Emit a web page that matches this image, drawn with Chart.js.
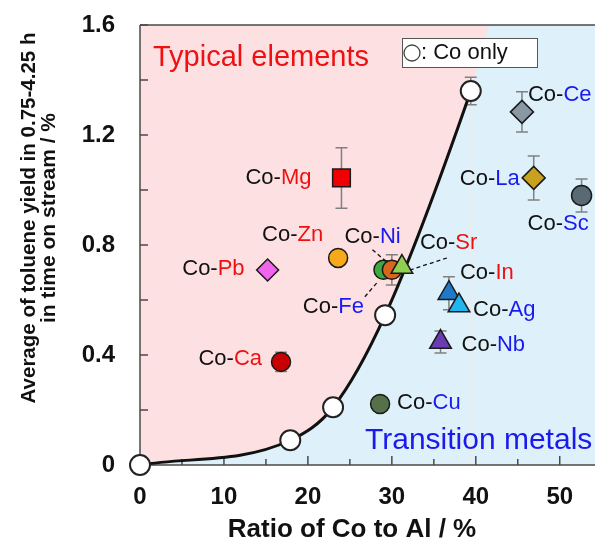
<!DOCTYPE html>
<html>
<head>
<meta charset="utf-8">
<script src="https://cdn.jsdelivr.net/npm/chart.js@4.4.1/dist/chart.umd.min.js"></script>
<style>
  html, body { margin: 0; padding: 0; background: #fff; }
  canvas { display: block; }
</style>
</head>
<body>
<canvas id="panel-chart" width="595" height="544"></canvas>
<script>
// Co only catalysts: ratio of Co to Al (%) vs toluene yield (%)
const coOnlyRatio = [0, 17.9, 23.0, 29.2, 39.4];
const coOnlyYield = [0, 0.09, 0.21, 0.545, 1.36];
const coOnlyError = [0, 0, 0, 0, 0.05];

// the shaded boundary keeps going past the last Co only point up to the frame
const boundaryRatio = [41.9, 60];
const boundaryYield = [1.6, 1.6];

// Co-X catalysts
const dopants = ['Mg', 'Zn', 'Pb', 'Ca', 'Ni', 'Fe', 'Sr', 'In', 'Ag', 'Nb', 'Cu', 'Ce', 'La', 'Sc'];
const dopantRatio = [24.0, 23.6, 15.2, 16.8, 29.0, 30.0, 31.2, 36.8, 38.0, 35.8, 28.6, 45.5, 46.9, 52.6];
const dopantYield = [1.044, 0.753, 0.709, 0.375, 0.71, 0.71, 0.72, 0.625, 0.58, 0.447, 0.222, 1.284, 1.044, 0.98];
const dopantError = [0.11, 0, 0, 0.035, 0, 0.055, 0, 0.06, 0, 0.04, 0, 0.073, 0.08, 0.06];
const dopantGroup = ['typical', 'typical', 'typical', 'typical', 'transition', 'transition', 'typical',
    'typical', 'transition', 'transition', 'transition', 'transition', 'transition', 'transition'];

const xTickLabels = [0, 10, 20, 30, 40, 50];
const yTickLabels = [0, 0.4, 0.8, 1.2, 1.6];

// looks
const markerLook = {
    Mg: { style: 'rect', color: '#f00000', size: 12.5 },
    Zn: { style: 'circle', color: '#f7a81b', size: 9.5 },
    Pb: { style: 'rectRot', color: '#f064ee', size: 11 },
    Ca: { style: 'circle', color: '#c80000', size: 9.5 },
    Ni: { style: 'circle', color: '#3caa3c', size: 9.5 },
    Fe: { style: 'circle', color: '#d8661c', size: 9.5 },
    Sr: { style: 'triangle', color: '#8fd050', size: 12.5 },
    In: { style: 'triangle', color: '#1f78c8', size: 12.5 },
    Ag: { style: 'triangle', color: '#22b6f0', size: 12.5 },
    Nb: { style: 'triangle', color: '#6a3cb4', size: 12.5 },
    Cu: { style: 'circle', color: '#56704a', size: 9.5 },
    Ce: { style: 'rectRot', color: '#8a98a4', size: 11.5 },
    La: { style: 'rectRot', color: '#c8a21e', size: 11.5 },
    Sc: { style: 'circle', color: '#5a6a74', size: 10 }
};

const groupColor = { typical: '#ee1111', transition: '#1a1aee' };

// label placement in pixels from the marker (left edge or right edge, vertical middle)
const labelPlacement = {
    Mg: { dx: -30, dy: 0, align: 'right' },
    Zn: { dx: -76, dy: -23, align: 'left' },
    Pb: { dx: -23, dy: -1, align: 'right' },
    Ca: { dx: -19, dy: -3, align: 'right' },
    Ni: { dx: -39, dy: -33, align: 'left' },
    Fe: { dx: -89, dy: 37, align: 'left' },
    Sr: { dx: 18, dy: -24, align: 'left' },
    In: { dx: 11, dy: -20, align: 'left' },
    Ag: { dx: 14, dy: 4, align: 'left' },
    Nb: { dx: 21, dy: 3, align: 'left' },
    Cu: { dx: 17, dy: -1, align: 'left' },
    Ce: { dx: 6, dy: -17, align: 'left' },
    La: { dx: -14, dy: 1, align: 'right' },
    Sc: { dx: -54, dy: 28, align: 'left' }
};

const leaderLines = {
    Ni: [-11, -20, 3, -8],
    Fe: [-27, 27, -14, 12],
    Sr: [45, -9, 8, 3]
};

const pinkZone = '#fde0e1';
const blueZone = '#def1fa';
const axisColor = '#4a4a4a';
const labelFont = '22px "Liberation Sans", Arial, sans-serif';

const coOnlyPoints = coOnlyRatio.map((x, i) => ({ x: x, y: coOnlyYield[i] }))
    .concat(boundaryRatio.map((x, i) => ({ x: x, y: boundaryYield[i] })));

const dopantPoints = dopants.map((d, i) => ({ x: dopantRatio[i], y: dopantYield[i] }));

const lastCoOnly = coOnlyRatio.length - 1;

const backdrop = {
    id: 'backdrop',
    beforeDraw(chart) {
        const { ctx, chartArea: a } = chart;
        ctx.save();
        ctx.fillStyle = '#ffffff';
        ctx.fillRect(0, 0, chart.width, chart.height);
        ctx.fillStyle = pinkZone;
        ctx.fillRect(a.left, a.top, a.right - a.left, a.bottom - a.top);
        ctx.restore();
    }
};

const axesAndBars = {
    id: 'axesAndBars',
    beforeDatasetsDraw(chart) {
        const { ctx, chartArea: a, scales } = chart;
        ctx.save();
        ctx.strokeStyle = axisColor;
        ctx.lineWidth = 1.5;

        ctx.beginPath();
        ctx.moveTo(a.left, a.top);
        ctx.lineTo(a.right, a.top);
        ctx.moveTo(a.left, a.top);
        ctx.lineTo(a.left, a.bottom);
        ctx.lineTo(a.right, a.bottom);
        ctx.stroke();

        // inward ticks
        ctx.beginPath();
        scales.x.ticks.forEach(t => {
            if (Math.abs(t.value % 5) > 0.01) return;
            const px = scales.x.getPixelForValue(t.value);
            const len = t.value % 10 === 0 ? 9 : 6;
            ctx.moveTo(px, a.bottom);
            ctx.lineTo(px, a.bottom - len);
        });
        scales.y.ticks.forEach(t => {
            const py = scales.y.getPixelForValue(t.value);
            ctx.moveTo(a.left, py);
            ctx.lineTo(a.left + 8, py);
        });
        ctx.stroke();

        // error bars
        ctx.strokeStyle = '#808080';
        ctx.lineWidth = 1.5;
        const bar = (x, y, e) => {
            if (!e) return;
            const px = scales.x.getPixelForValue(x);
            const top = scales.y.getPixelForValue(y + e);
            const bot = scales.y.getPixelForValue(y - e);
            ctx.beginPath();
            ctx.moveTo(px, top);
            ctx.lineTo(px, bot);
            ctx.moveTo(px - 6, top);
            ctx.lineTo(px + 6, top);
            ctx.moveTo(px - 6, bot);
            ctx.lineTo(px + 6, bot);
            ctx.stroke();
        };
        coOnlyRatio.forEach((x, i) => bar(x, coOnlyYield[i], coOnlyError[i]));
        dopants.forEach((d, i) => bar(dopantRatio[i], dopantYield[i], dopantError[i]));
        ctx.restore();
    }
};

const textLayer = {
    id: 'textLayer',
    afterDatasetsDraw(chart) {
        const { ctx, scales } = chart;
        ctx.save();

        // dashed leaders
        ctx.strokeStyle = '#111';
        ctx.lineWidth = 1.3;
        ctx.setLineDash([4, 3]);
        Object.keys(leaderLines).forEach(d => {
            const i = dopants.indexOf(d);
            const px = scales.x.getPixelForValue(dopantRatio[i]);
            const py = scales.y.getPixelForValue(dopantYield[i]);
            const l = leaderLines[d];
            ctx.beginPath();
            ctx.moveTo(px + l[0], py + l[1]);
            ctx.lineTo(px + l[2], py + l[3]);
            ctx.stroke();
        });
        ctx.setLineDash([]);

        // Co-X labels
        ctx.font = labelFont;
        ctx.textBaseline = 'middle';
        ctx.textAlign = 'left';
        dopants.forEach((d, i) => {
            const px = scales.x.getPixelForValue(dopantRatio[i]);
            const py = scales.y.getPixelForValue(dopantYield[i]);
            const p = labelPlacement[d];
            const wCo = ctx.measureText('Co-').width;
            const wD = ctx.measureText(d).width;
            let x0 = px + p.dx;
            if (p.align === 'right') x0 -= wCo + wD;
            const y0 = py + p.dy;
            ctx.fillStyle = '#111';
            ctx.fillText('Co-', x0, y0);
            ctx.fillStyle = groupColor[dopantGroup[i]];
            ctx.fillText(d, x0 + wCo, y0);
        });

        // zone names
        ctx.textBaseline = 'alphabetic';
        ctx.font = '29px "Liberation Sans", Arial, sans-serif';
        ctx.fillStyle = groupColor.typical;
        ctx.fillText('Typical elements', 153, 66);
        ctx.font = '30px "Liberation Sans", Arial, sans-serif';
        ctx.fillStyle = groupColor.transition;
        ctx.fillText('Transition metals', 365, 449);

        // legend box
        ctx.fillStyle = '#ffffff';
        ctx.fillRect(402, 38, 135, 29);
        ctx.strokeStyle = '#555';
        ctx.lineWidth = 1;
        ctx.strokeRect(402.5, 38.5, 135, 29);
        ctx.beginPath();
        ctx.arc(412, 53, 8, 0, Math.PI * 2);
        ctx.lineWidth = 1.3;
        ctx.strokeStyle = '#444';
        ctx.stroke();
        ctx.fillStyle = '#111';
        ctx.font = labelFont;
        ctx.textBaseline = 'middle';
        ctx.fillText(': Co only', 421, 53);

        // axis titles
        ctx.font = 'bold 26px "Liberation Sans", Arial, sans-serif';
        ctx.textAlign = 'center';
        ctx.fillStyle = '#111';
        ctx.fillText('Ratio of Co to Al / %', 352, 530);

        ctx.save();
        ctx.translate(29, 218);
        ctx.rotate(-Math.PI / 2);
        ctx.font = 'bold 21px "Liberation Sans", Arial, sans-serif';
        ctx.fillText('Average of toluene yield in 0.75-4.25 h', 0, 0, 371);
        ctx.fillText('in time on stream / %', 0, 20, 233);
        ctx.restore();

        ctx.restore();
    }
};

new Chart(document.getElementById('panel-chart').getContext('2d'), {
    type: 'scatter',
    data: {
        datasets: [
            {
                label: 'Co-X',
                data: dopantPoints,
                pointStyle: dopants.map(d => markerLook[d].style),
                pointRadius: dopants.map(d => markerLook[d].size),
                pointHoverRadius: dopants.map(d => markerLook[d].size),
                backgroundColor: dopants.map(d => markerLook[d].color),
                borderColor: '#1a1a1a',
                borderWidth: 1.5,
                clip: false
            },
            {
                label: 'Co only',
                data: coOnlyPoints,
                showLine: true,
                cubicInterpolationMode: 'monotone',
                borderWidth: 3,
                borderColor: '#111',
                segment: {
                    borderColor: ctx => ctx.p0DataIndex >= lastCoOnly ? 'rgba(0,0,0,0)' : '#111'
                },
                fill: { target: 'start', above: blueZone, below: blueZone },
                pointRadius: coOnlyPoints.map((p, i) => i <= lastCoOnly ? 10 : 0),
                pointBackgroundColor: '#ffffff',
                pointBorderColor: '#222',
                pointBorderWidth: 2,
                clip: false
            }
        ]
    },
    options: {
        responsive: false,
        animation: false,
        events: [],
        layout: { autoPadding: false, padding: { top: 25, left: 0, right: 0, bottom: 0 } },
        plugins: {
            legend: { display: false },
            tooltip: { enabled: false },
            filler: { drawTime: 'beforeDatasetsDraw' }
        },
        scales: {
            x: {
                type: 'linear',
                min: 0,
                max: 54.2,
                afterFit: scale => {
                    scale.height = 79;
                    scale.paddingLeft = 0;
                    scale.paddingRight = 0;
                },
                grid: { display: false, drawTicks: false },
                border: { display: false },
                ticks: {
                    stepSize: 5,
                    includeBounds: false,
                    padding: 18,
                    autoSkip: false,
                    maxRotation: 0,
                    color: '#111',
                    font: { family: '"Liberation Sans", Arial, sans-serif', size: 24, weight: 'bold' },
                    callback: v => xTickLabels.includes(v) ? String(v) : ''
                }
            },
            y: {
                type: 'linear',
                min: 0,
                max: 1.6,
                afterFit: scale => {
                    scale.width = 140;
                    scale.paddingTop = 0;
                    scale.paddingBottom = 0;
                },
                grid: { display: false, drawTicks: false },
                border: { display: false },
                ticks: {
                    stepSize: 0.2,
                    padding: 25,
                    autoSkip: false,
                    color: '#111',
                    font: { family: '"Liberation Sans", Arial, sans-serif', size: 24, weight: 'bold' },
                    callback: v => {
                        const r = Math.round(v * 10) / 10;
                        if (!yTickLabels.includes(r)) return '';
                        return r === 0 ? '0' : r.toFixed(1);
                    }
                }
            }
        }
    },
    plugins: [backdrop, axesAndBars, textLayer]
});
</script>
</body>
</html>
